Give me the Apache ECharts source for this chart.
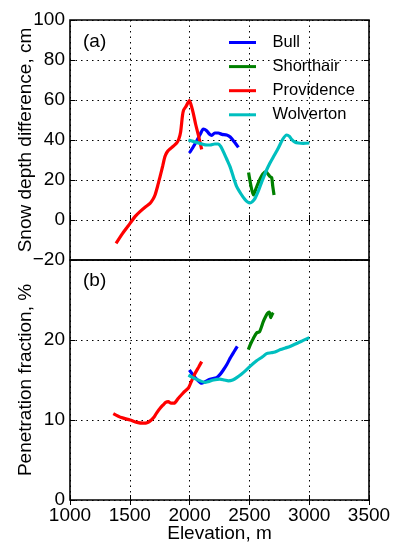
<!DOCTYPE html>
<html>
<head>
<meta charset="utf-8">
<script src="https://cdn.jsdelivr.net/npm/echarts@6/dist/echarts.min.js"></script>
<style>
  html, body { margin: 0; padding: 0; background: #fff; }
  #chart { width: 395px; height: 553px; }
</style>
</head>
<body>
<div id="chart"></div>
<script>
// Site names (legend order)
const sites = ['Bull', 'Shorthair', 'Providence', 'Wolverton'];
const siteColors = ['#0000ff', '#008000', '#ff0000', '#00bfbf'];

// Elevation axis ticks (m)
const elevTicks = [1000, 1500, 2000, 2500, 3000, 3500];
// Panel (a) ticks: snow depth difference (cm)
const depthTicks = [-20, 0, 20, 40, 60, 80, 100];
// Panel (b) ticks: penetration fraction (%)
const penTicks = [0, 10, 20, 30];

// Panel (a): snow depth difference, [elevation m, cm]
const bullDepth = [[1998,33.5],[2030,36.5],[2059,39.5],[2090,43],[2115,45.5],[2140,44.8],[2165,43],[2185,42.3],[2210,43.5],[2240,43.5],[2270,42.8],[2310,42.5],[2340,41.5],[2375,39],[2408,36.3]];
const shorthairDepth = [[2493,23.7],[2510,18],[2533,12.5],[2560,16.5],[2589,20.5],[2612,23],[2639,24.2],[2655,23],[2672,21.7],[2686,21.3],[2695,17],[2706,12.5]];
const providenceDepth = [[1385,-11.7],[1440,-6.7],[1502,-1.7],[1545,1.8],[1585,4.2],[1630,6.5],[1669,8.3],[1695,10.5],[1711,12.5],[1733,17],[1753,21.7],[1775,27],[1794,31.7],[1812,34],[1836,35.5],[1865,37],[1892,38.5],[1910,40.5],[1925,44],[1940,52],[1950,55],[1970,56.8],[1998,59.7],[2015,57],[2031,53.3],[2050,48],[2073,42.5],[2101,35.3]];
const wolvertonDepth = [[1990,40],[2030,39.3],[2087,38.3],[2130,37.6],[2171,37.5],[2210,38],[2240,38],[2260,36.8],[2282,34.2],[2310,30.5],[2338,26.7],[2366,21.5],[2394,16.7],[2430,13],[2463,10.2],[2485,9],[2505,8.5],[2525,9.2],[2547,10.8],[2575,14.5],[2603,19],[2640,24.5],[2672,28.5],[2700,31.5],[2742,36],[2780,40.5],[2812,42.5],[2835,41.8],[2853,40.3],[2880,39],[2909,38.5],[2950,38.3],[3001,38.5]];

// Panel (b): penetration fraction, [elevation m, %]
const bullPen = [[1998,16.25],[2030,15.6],[2059,15.1],[2101,14.6],[2130,14.8],[2171,15.1],[2226,15.3],[2255,15.7],[2282,16.25],[2310,16.9],[2338,17.7],[2370,18.5],[2399,19.2]];
const shorthairPen = [[2491,18.8],[2510,19.5],[2533,20.2],[2561,20.9],[2583,21.0],[2600,21.6],[2616,22.3],[2635,22.9],[2650,23.3],[2666,23.5],[2678,22.8],[2690,23.2],[2700,23.4]];
const providencePen = [[1362,10.8],[1430,10.3],[1502,10.0],[1560,9.7],[1613,9.6],[1650,9.7],[1680,10.0],[1705,10.4],[1725,10.9],[1755,11.5],[1780,11.9],[1800,12.2],[1822,12.3],[1845,12.1],[1870,12.1],[1905,12.7],[1947,13.4],[1990,14.0],[2017,14.9],[2045,15.8],[2075,16.6],[2101,17.3]];
const wolvertonPen = [[1990,15.6],[2040,15.2],[2087,14.9],[2130,14.7],[2157,14.8],[2200,15.0],[2254,15.1],[2290,15.0],[2324,14.9],[2360,15.0],[2394,15.3],[2430,15.7],[2470,16.2],[2505,16.7],[2560,17.4],[2610,17.9],[2644,18.3],[2680,18.4],[2714,18.5],[2760,18.8],[2800,19.0],[2839,19.2],[2900,19.6],[2950,19.95],[3001,20.3]];

const depthSets = [bullDepth, shorthairDepth, providenceDepth, wolvertonDepth];
const penSets = [bullPen, shorthairPen, providencePen, wolvertonPen];

const FONT = 'Liberation Sans, Arial, Helvetica, sans-serif';
const dotted = { show: true, lineStyle: { color: '#000', type: [1.5, 4], width: 1 } };
const tickIn = { show: true, inside: true, length: 5, lineStyle: { color: '#000', width: 1 } };
const labelStyle = { color: '#000', fontFamily: FONT, fontSize: 19 };
const nameStyle = { color: '#000', fontFamily: FONT, fontSize: 19 };
// Plain numbers, true minus sign
const fmt = v => (v < 0 ? '\u2212' + Math.abs(v) : String(v));

function xAxes(gridIndex, withLabels) {
  const base = {
    type: 'value', gridIndex, min: elevTicks[0], max: elevTicks[elevTicks.length - 1],
    interval: elevTicks[1] - elevTicks[0], axisLine: { show: false }, axisTick: tickIn
  };
  return [
    Object.assign({}, base, {
      position: 'bottom', splitLine: dotted,
      axisLabel: withLabels ? Object.assign({ margin: 6, formatter: fmt }, labelStyle) : { show: false },
      name: withLabels ? 'Elevation, m' : '', nameLocation: 'middle', nameGap: 24,
      nameMoveOverlap: false, nameTextStyle: nameStyle
    }),
    Object.assign({}, base, { position: 'top', splitLine: { show: false }, axisLabel: { show: false } })
  ];
}

function yAxes(gridIndex, ticks, name, showMax) {
  const base = {
    type: 'value', gridIndex, min: ticks[0], max: ticks[ticks.length - 1],
    interval: ticks[1] - ticks[0], axisLine: { show: false }, axisTick: tickIn
  };
  return [
    Object.assign({}, base, {
      position: 'left', splitLine: dotted,
      axisLabel: Object.assign({ margin: 5, showMaxLabel: showMax, formatter: fmt }, labelStyle),
      name, nameLocation: 'middle', nameGap: 35, nameMoveOverlap: false, nameTextStyle: nameStyle
    }),
    Object.assign({}, base, { position: 'right', splitLine: { show: false }, axisLabel: { show: false } })
  ];
}

const series = [];
sites.forEach((s, i) => {
  series.push({ name: s, type: 'line', xAxisIndex: 0, yAxisIndex: 0, data: depthSets[i],
    showSymbol: false, smooth: 0.25, lineStyle: { width: 3.2, color: siteColors[i] }, itemStyle: { color: siteColors[i] } });
});
sites.forEach((s, i) => {
  series.push({ name: s, type: 'line', xAxisIndex: 2, yAxisIndex: 2, data: penSets[i],
    showSymbol: false, smooth: 0.25, lineStyle: { width: 3.2, color: siteColors[i] }, itemStyle: { color: siteColors[i] } });
});

const chart = echarts.init(document.getElementById('chart'), null, { renderer: 'canvas' });
chart.setOption({
  animation: false,
  backgroundColor: '#fff',
  grid: [
    { left: 70, right: 26, top: 20, height: 240, show: true, borderColor: '#000', borderWidth: 1.6, backgroundColor: 'transparent' },
    { left: 70, right: 26, top: 260, height: 240, show: true, borderColor: '#000', borderWidth: 1.6, backgroundColor: 'transparent' }
  ],
  xAxis: [].concat(xAxes(0, false), xAxes(1, true)),
  yAxis: [].concat(
    yAxes(0, depthTicks, 'Snow depth difference, cm', true),
    yAxes(1, penTicks, 'Penetration fraction, %', false)
  ),
  legend: {
    data: sites, orient: 'vertical', left: 229, top: 33.5, padding: 0,
    icon: 'rect', itemWidth: 27, itemHeight: 3, itemGap: 6.1,
    textStyle: { color: '#000', fontFamily: FONT, fontSize: 16.5, lineHeight: 18, padding: [0, 0, 0, 11.5] },
    selectedMode: false
  },
  graphic: [
    { type: 'text', left: 83, top: 32, style: { text: '(a)', fill: '#000', font: '19px ' + FONT } },
    { type: 'text', left: 83, top: 271, style: { text: '(b)', fill: '#000', font: '19px ' + FONT } }
  ],
  series
});
</script>
</body>
</html>
